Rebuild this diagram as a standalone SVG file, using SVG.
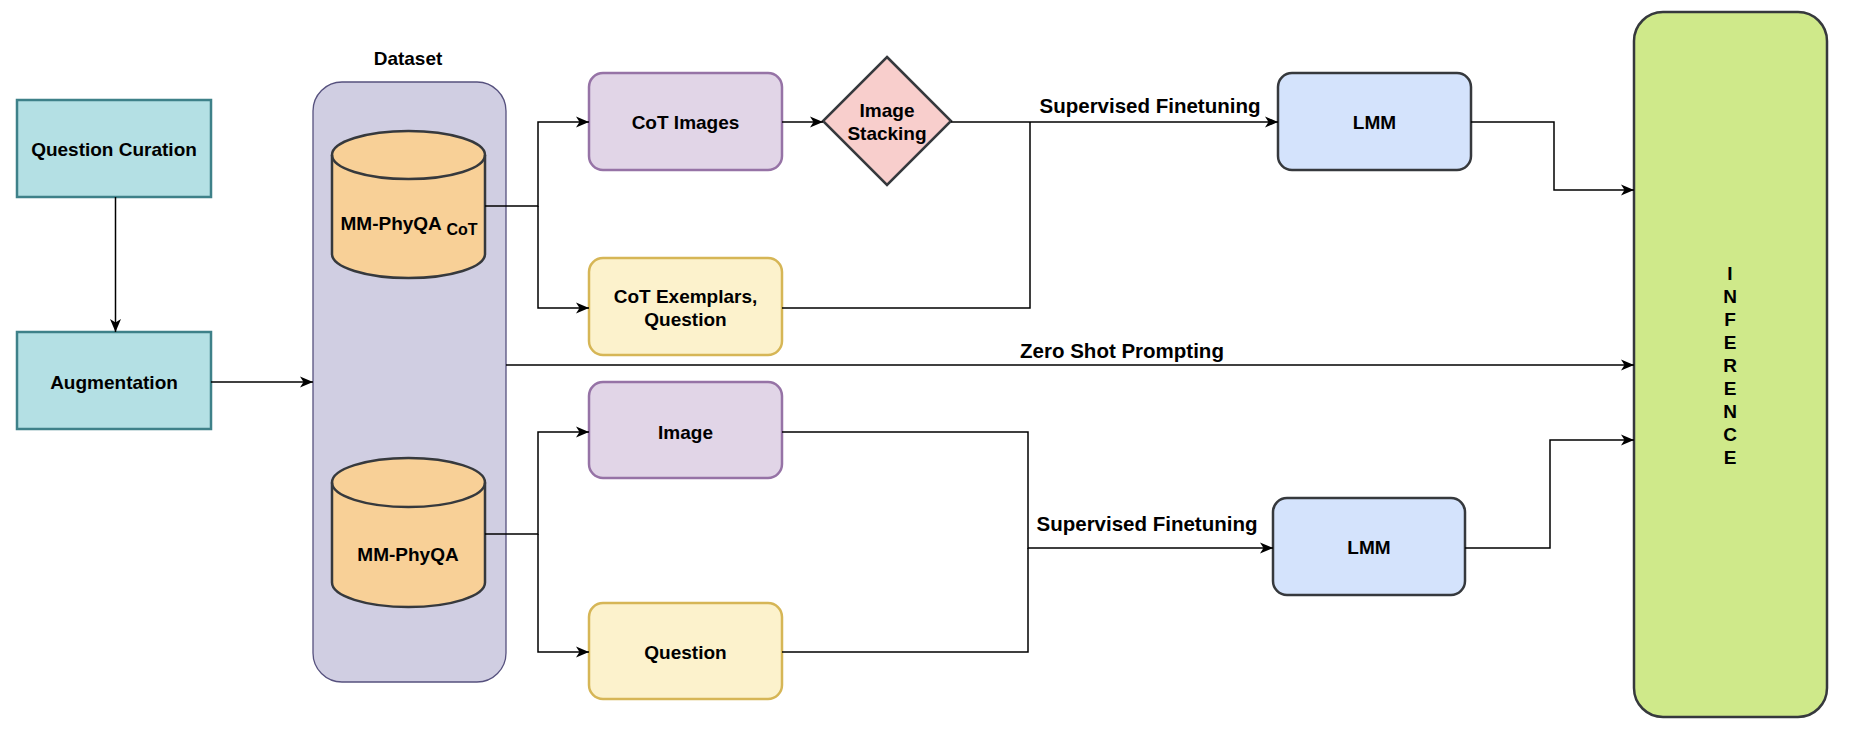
<svg xmlns="http://www.w3.org/2000/svg" width="1850" height="754" viewBox="0 0 1850 754">
<style>
text{font-family:"Liberation Sans",Arial,sans-serif;font-weight:bold;fill:#000;text-anchor:middle}
.n{font-size:19px}
.e{font-size:20.5px}
.conn{fill:none;stroke:#000;stroke-width:1.5}
.teal{fill:#b4e0e4;stroke:#3e8189;stroke-width:2.5}
.purple{fill:#e1d5e7;stroke:#9673a6;stroke-width:2.5}
.yellow{fill:#fcf2cc;stroke:#d6b656;stroke-width:2.5}
.dark{stroke:#36393d;stroke-width:2.5}
</style>
<defs>
<marker id="arr" markerUnits="userSpaceOnUse" markerWidth="14" markerHeight="14" viewBox="0 0 14 14" refX="13" refY="7" orient="auto">
<path d="M0,1.5 L13,7 L0,12.5 L3.5,7 Z" fill="#000"/>
</marker>
</defs>
<rect width="1850" height="754" fill="#fff"/>

<g id="dataset">
<rect x="313" y="82" width="193" height="600" rx="29" fill="#d0cee2" stroke="#56517e" stroke-width="1.3"/>
<text class="n" x="408" y="64.5">Dataset</text>
</g>

<g id="question-curation">
<rect class="teal" x="17" y="100" width="194" height="97"/>
<text class="n" x="114" y="155.5">Question Curation</text>
</g>

<g id="augmentation">
<rect class="teal" x="17" y="332" width="194" height="97"/>
<text class="n" x="114" y="388.5">Augmentation</text>
</g>

<g id="mm-phyqa-cot">
<path d="M332,155 A76.5,24 0 0 1 485,155 L485,254 A76.5,24 0 0 1 332,254 Z" fill="#f8d097" class="dark"/>
<path d="M332,155 A76.5,24 0 0 0 485,155" fill="none" class="dark"/>
<text class="n" x="409" y="229.5">MM-PhyQA <tspan font-size="16px" dy="5">CoT</tspan></text>
</g>

<g id="mm-phyqa">
<path d="M332,482.5 A76.5,24.5 0 0 1 485,482.5 L485,582.5 A76.5,24.5 0 0 1 332,582.5 Z" fill="#f8d097" class="dark"/>
<path d="M332,482.5 A76.5,24.5 0 0 0 485,482.5" fill="none" class="dark"/>
<text class="n" x="408" y="561">MM-PhyQA</text>
</g>

<g id="cot-images">
<rect class="purple" x="589" y="73" width="193" height="97" rx="14"/>
<text class="n" x="685.5" y="128.5">CoT Images</text>
</g>

<g id="image-stacking">
<path d="M887,57 L951,121 L887,185 L823,121 Z" fill="#f8cecc" class="dark"/>
<text class="n" x="887" y="117">Image</text>
<text class="n" x="887" y="139.5">Stacking</text>
</g>

<g id="cot-exemplars">
<rect class="yellow" x="589" y="258" width="193" height="97" rx="14"/>
<text class="n" x="685.5" y="302.5">CoT Exemplars,</text>
<text class="n" x="685.5" y="325.5">Question</text>
</g>

<g id="image">
<rect class="purple" x="589" y="382" width="193" height="96" rx="14"/>
<text class="n" x="685.5" y="438.5">Image</text>
</g>

<g id="question">
<rect class="yellow" x="589" y="603" width="193" height="96" rx="14"/>
<text class="n" x="685.5" y="658.5">Question</text>
</g>

<g id="lmm-1">
<rect x="1278" y="73" width="193" height="97" rx="14" fill="#d4e3fc" class="dark"/>
<text class="n" x="1374.5" y="128.5">LMM</text>
</g>

<g id="lmm-2">
<rect x="1273" y="498" width="192" height="97" rx="14" fill="#d4e3fc" class="dark"/>
<text class="n" x="1369" y="553.5">LMM</text>
</g>

<g id="inference">
<rect x="1634" y="12" width="193" height="705" rx="29" fill="#cfe98a" class="dark"/>
<text class="n" x="1730" y="280">I</text>
<text class="n" x="1730" y="303">N</text>
<text class="n" x="1730" y="326">F</text>
<text class="n" x="1730" y="349">E</text>
<text class="n" x="1730" y="372">R</text>
<text class="n" x="1730" y="395">E</text>
<text class="n" x="1730" y="418">N</text>
<text class="n" x="1730" y="441">C</text>
<text class="n" x="1730" y="464">E</text>
</g>

<g id="connectors">
<path class="conn" d="M115.5,197 L115.5,332" marker-end="url(#arr)"/>
<path class="conn" d="M211,382 L313,382" marker-end="url(#arr)"/>
<path class="conn" d="M485,206 L538,206 L538,122 L589,122" marker-end="url(#arr)"/>
<path class="conn" d="M538,206 L538,308 L589,308" marker-end="url(#arr)"/>
<path class="conn" d="M782,122 L823,122" marker-end="url(#arr)"/>
<path class="conn" d="M951,122 L1278,122" marker-end="url(#arr)"/>
<path class="conn" d="M782,308 L1030,308 L1030,122"/>
<path class="conn" d="M1471,122 L1554,122 L1554,190 L1634,190" marker-end="url(#arr)"/>
<path class="conn" d="M506,365 L1634,365" marker-end="url(#arr)"/>
<path class="conn" d="M485,534 L538,534 L538,432 L589,432" marker-end="url(#arr)"/>
<path class="conn" d="M538,534 L538,652 L589,652" marker-end="url(#arr)"/>
<path class="conn" d="M782,432 L1028,432 L1028,548 L1273,548" marker-end="url(#arr)"/>
<path class="conn" d="M782,652 L1028,652 L1028,548"/>
<path class="conn" d="M1465,548 L1550,548 L1550,440 L1634,440" marker-end="url(#arr)"/>
<text class="e" x="1150" y="113">Supervised Finetuning</text>
<text class="e" x="1122" y="358">Zero Shot Prompting</text>
<text class="e" x="1147" y="531">Supervised Finetuning</text>
</g>
</svg>
